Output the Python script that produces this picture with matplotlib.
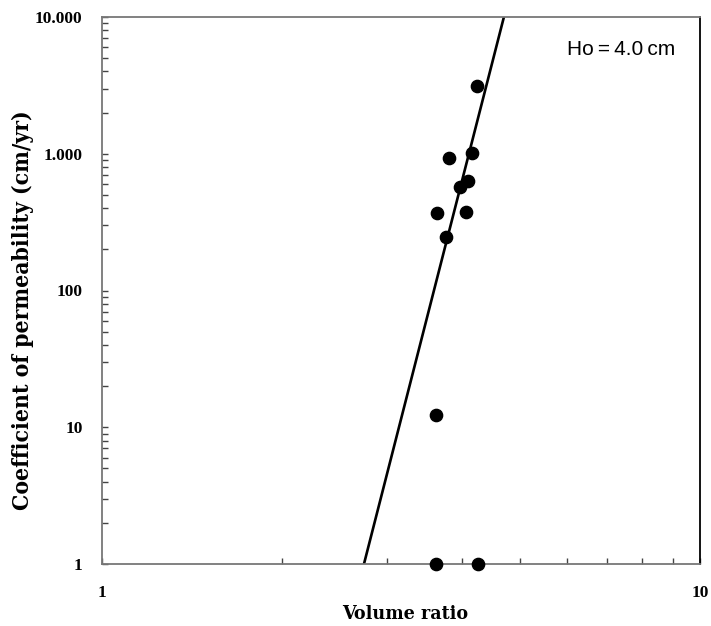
import numpy as np
import matplotlib
matplotlib.use('Agg')
import matplotlib.pyplot as plt
from matplotlib.ticker import FixedLocator, LogLocator, NullFormatter

# measured points (volume ratio, permeability cm/yr)
volume_ratio = [4.24, 3.80, 4.16, 4.09, 3.97, 3.63, 4.06, 3.76, 3.62, 3.62, 4.25]
permeability = [3130, 930, 1010, 632, 571, 369, 375, 246, 12.3, 1.0, 1.0]

# fitted trend line end points
fit_x = [2.742, 4.70]
fit_y = [1.0, 10000.0]

y_ticks = [1, 10, 100, 1000, 10000]
y_tick_labels = ['1', '10', '100', '1.000', '10.000']
x_ticks = [1, 10]
x_tick_labels = ['1', '10']

fig = plt.figure(figsize=(7.11, 6.26), dpi=100)
W, H = 711, 626
ax = fig.add_axes([102 / W, 1 - 564 / H, (700 - 102) / W, (564 - 17) / H])

ax.set_xscale('log')
ax.set_yscale('log')
ax.set_xlim(1, 10)
ax.set_ylim(1, 10000)

ax.plot(fit_x, fit_y, color='black', lw=1.9, zorder=2)
ax.scatter(volume_ratio, permeability, s=78, color='black', zorder=3, clip_on=False)

ax.xaxis.set_major_locator(FixedLocator(x_ticks))
ax.yaxis.set_major_locator(FixedLocator(y_ticks))
ax.xaxis.set_minor_locator(LogLocator(base=10, subs=np.arange(2, 10)))
ax.yaxis.set_minor_locator(LogLocator(base=10, subs=np.arange(2, 10)))
ax.xaxis.set_minor_formatter(NullFormatter())
ax.yaxis.set_minor_formatter(NullFormatter())
ax.set_xticklabels(x_tick_labels)
ax.set_yticklabels(y_tick_labels)

ax.tick_params(which='both', direction='in', length=4, width=1, color='#444444')
ax.tick_params(axis='x', pad=15)
ax.tick_params(axis='y', pad=14)
for lab in ax.get_xticklabels() + ax.get_yticklabels():
    lab.set_fontfamily('Liberation Serif')
    lab.set_fontweight('bold')
    lab.set_fontsize(12.5)

for side in ['left', 'bottom', 'top']:
    ax.spines[side].set_color('#777777')
    ax.spines[side].set_linewidth(1.3)
ax.spines['right'].set_color('black')
ax.spines['right'].set_linewidth(1.3)

ax.text(0.777, 0.94, 'Ho\u2009=\u20094.0\u2009cm', transform=ax.transAxes, fontsize=15,
        family=['Liberation Sans', 'DejaVu Sans'], ha='left', va='center')

fig.text(405 / W, 1 - 614 / H, 'Volume ratio', ha='center', va='center',
         fontsize=14, family='DejaVu Serif', fontweight='bold', stretch='condensed')
fig.text(23 / W, 1 - 310 / H, 'Coefficient of permeability (cm/yr)', ha='center', va='center',
         rotation=90, fontsize=16.4, family='DejaVu Serif', fontweight='bold', stretch='condensed')

fig.savefig('out.png', dpi=100)
